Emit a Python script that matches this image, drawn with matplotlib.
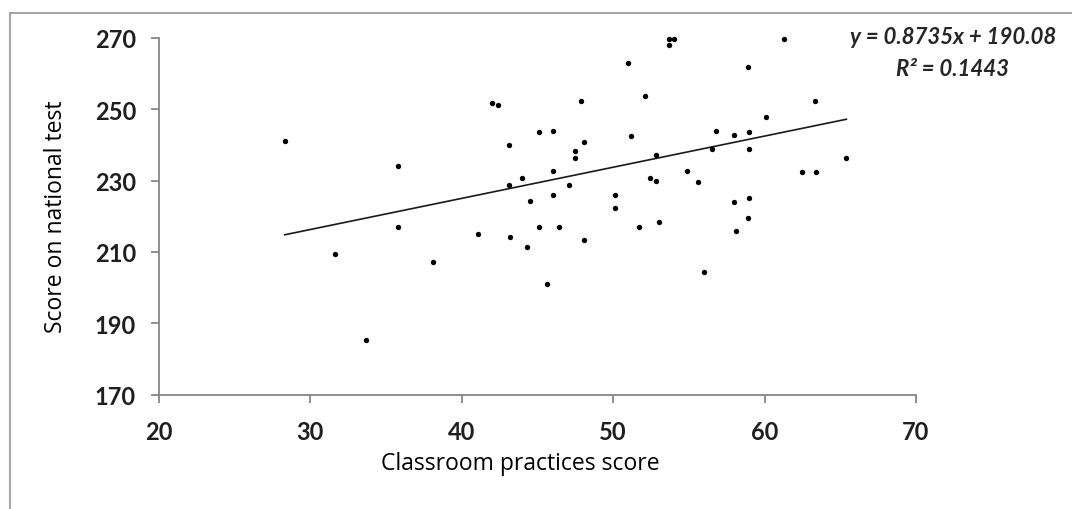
import matplotlib
matplotlib.use("Agg")
import matplotlib.pyplot as plt
from matplotlib.patches import Rectangle
import numpy as np

# Data
classroom_score = [28.3, 31.6, 33.7, 35.8, 35.8, 38.1, 41.1, 42.0, 42.4, 43.1,
                   43.1, 43.2, 44.0, 44.3, 44.5, 45.1, 45.1, 45.6, 46.0, 46.0,
                   46.0, 46.4, 47.1, 47.5, 47.5, 47.9, 48.1, 48.1, 50.1, 50.1,
                   51.0, 51.2, 51.7, 52.1, 52.4, 52.8, 52.8, 53.0, 53.7, 54.0,
                   53.7, 54.9, 55.6, 56.0, 56.5, 56.8, 58.0, 58.0, 58.1, 58.9,
                   58.9, 59.0, 59.0, 59.0, 60.1, 61.3, 62.5, 63.3, 63.4, 65.4]
national_score = [241.2, 209.3, 185.4, 234.0, 217.1, 207.1, 214.9, 251.9, 251.1, 240.1,
                  228.9, 214.3, 230.6, 211.5, 224.4, 243.5, 217.1, 200.9, 244.0, 232.8,
                  226.1, 217.1, 228.9, 238.4, 236.2, 252.4, 240.7, 213.2, 226.1, 222.2,
                  263.1, 242.4, 217.1, 253.6, 230.6, 230.0, 237.3, 218.3, 269.7, 269.7,
                  268.0, 232.8, 229.5, 204.3, 239.0, 244.0, 242.9, 223.9, 216.0, 261.9,
                  219.4, 243.5, 239.0, 225.0, 247.9, 269.7, 232.3, 252.4, 232.3, 236.2]
slope = 0.8735
intercept = 190.08
r_squared = 0.1443
x_ticks = [20, 30, 40, 50, 60, 70]
y_ticks = [170, 190, 210, 230, 250, 270]

W, H = 1072, 510
fig = plt.figure(figsize=(W / 100, H / 100), dpi=100)
fig.patch.set_facecolor("white")

# outer gray frame (extends beyond the image on right and bottom)
fig.add_artist(Rectangle((10 / W, -0.1), 1.2, (H - 14) / H + 0.1,
                         transform=fig.transFigure, fill=False,
                         edgecolor="#a6a6a6", linewidth=1.5))

ax = fig.add_axes([159 / W, 1 - 395.5 / H, (916 - 159) / W, (395.5 - 39) / H])
ax.scatter(classroom_score, national_score, s=15, color="black", zorder=3,
           linewidths=0, clip_on=False)

xs = np.array([min(classroom_score), max(classroom_score)])
ax.plot(xs, slope * xs + intercept, color="#1a1a1a", linewidth=1.2, zorder=2)

ax.set_xlim(20, 70)
ax.set_ylim(170, 270)
ax.set_xticks(x_ticks)
ax.set_yticks(y_ticks)

for s in ["top", "right"]:
    ax.spines[s].set_visible(False)
for s in ["left", "bottom"]:
    ax.spines[s].set_color("#868686")
    ax.spines[s].set_linewidth(1.3)
ax.tick_params(direction="out", length=5.5, width=1.3, color="#868686",
               labelsize=17, labelcolor="#1f1f1f")
ax.tick_params(axis="x", pad=12.5)
ax.tick_params(axis="y", pad=11)
for lbl in ax.get_xticklabels() + ax.get_yticklabels():
    lbl.set_fontfamily("Lato")
    lbl.set_fontweight("bold")

ax.set_xlabel("Classroom practices score", fontsize=16.5, family="Open Sans",
              color="black")
ax.set_ylabel("Score on national test", fontsize=16.5, family="Open Sans",
              color="black")
ax.xaxis.set_label_coords((520 - 159) / (916 - 159), -(452 - 395.5) / (395.5 - 39))
ax.yaxis.set_label_coords(-(159 - 68) / (916 - 159), 0.5)

fig.text(953 / W, 1 - 38 / H, f"y = {slope}x + {intercept}", ha="center", va="center",
         fontsize=16, style="italic", fontweight="bold", family="Lato", color="#262626")
fig.text(953 / W, 1 - 69 / H, f"R\u00b2 = {r_squared}",
         ha="center", va="center",
         fontsize=16, style="italic", fontweight="bold", family="Lato", color="#262626")

fig.savefig("out.png", dpi=100)
